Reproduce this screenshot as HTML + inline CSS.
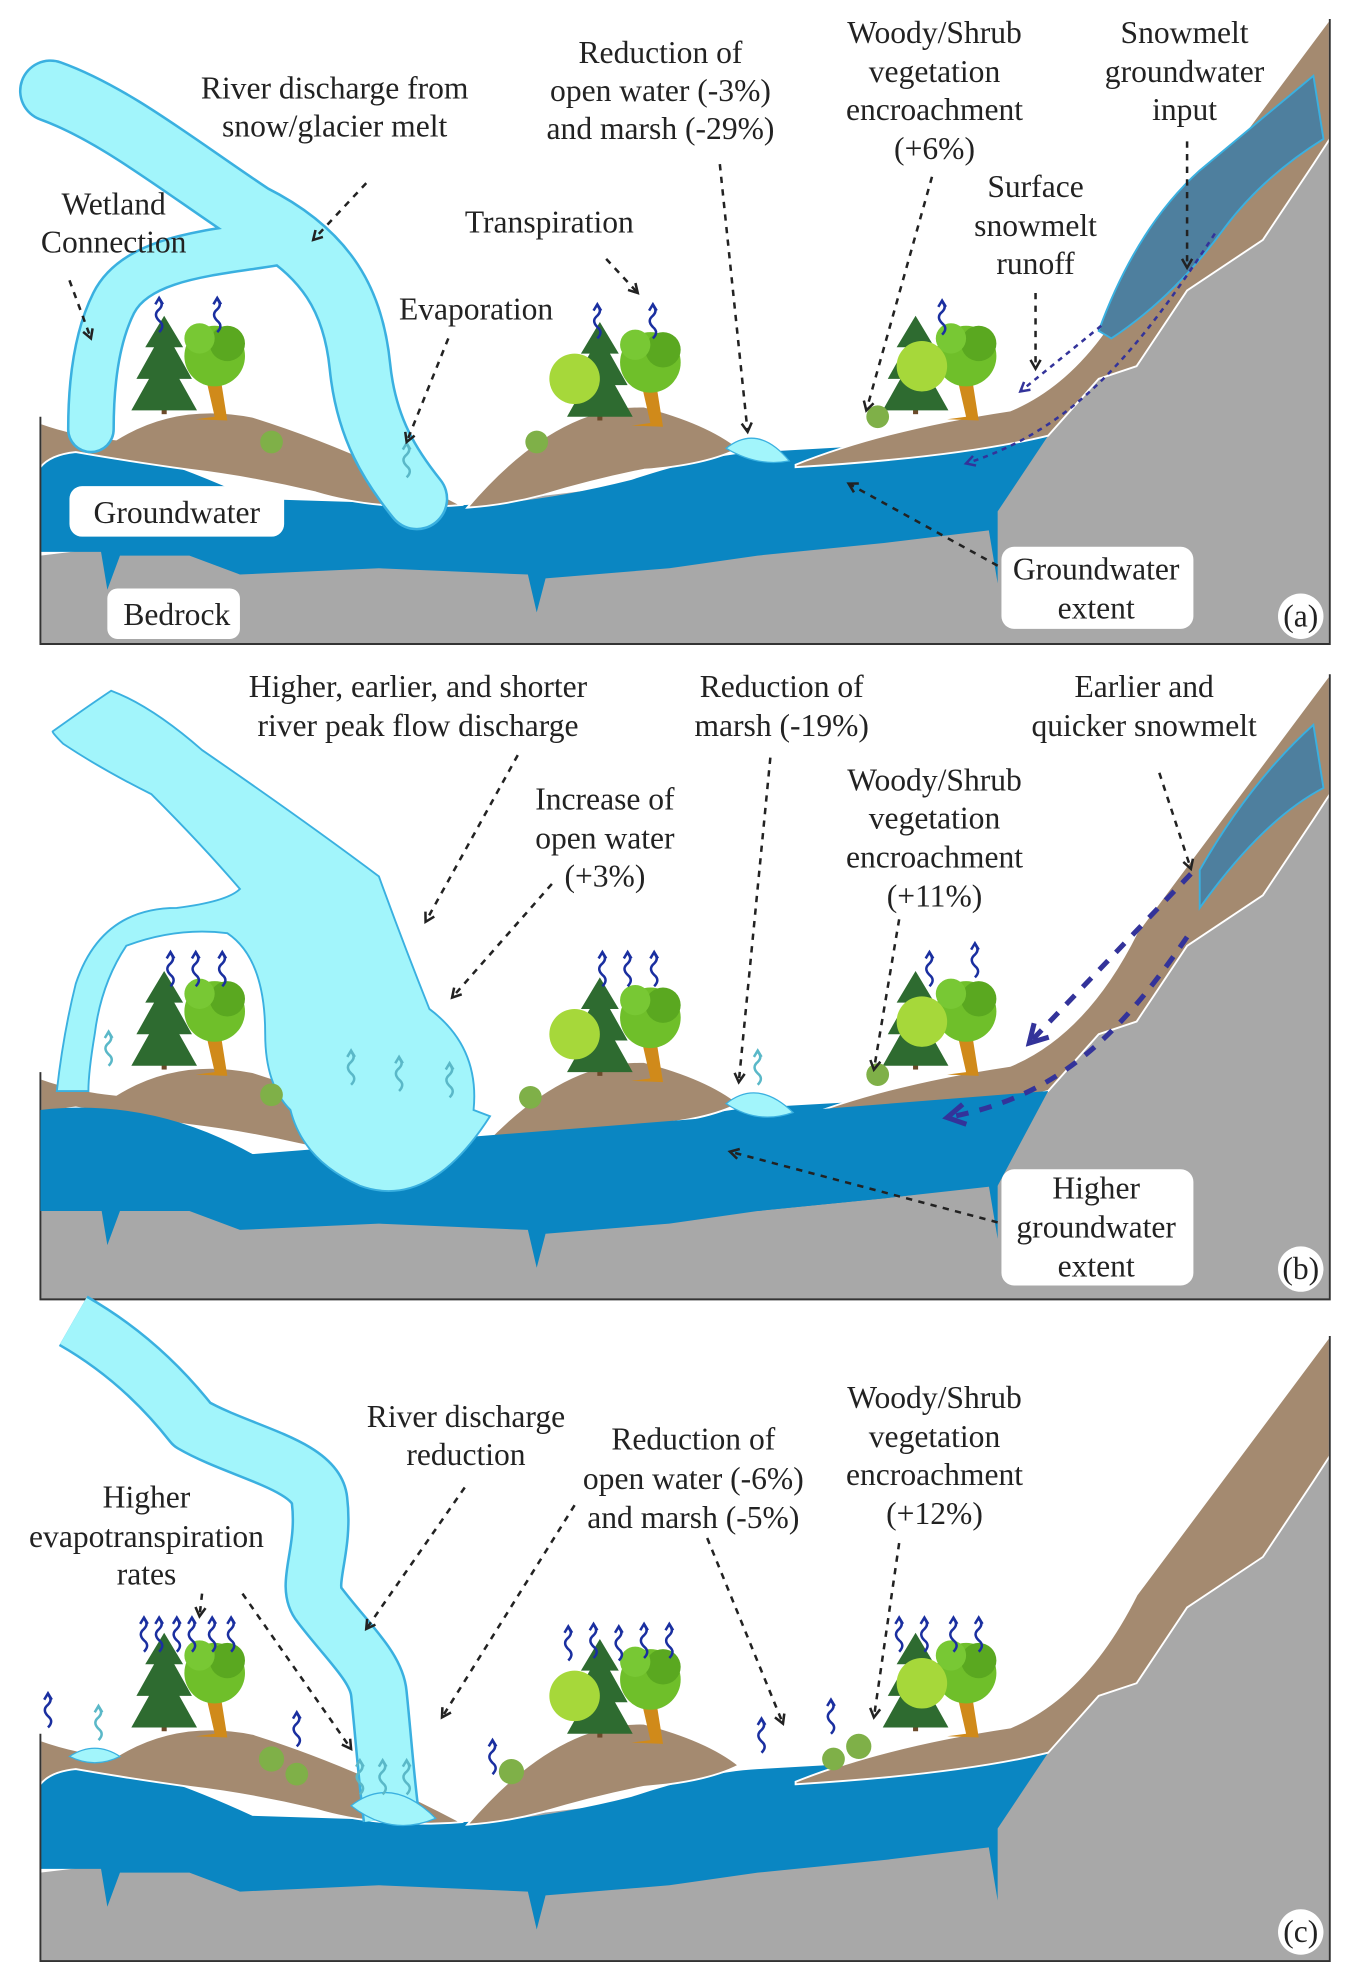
<!DOCTYPE html>
<html><head><meta charset="utf-8"><style>
html,body{margin:0;padding:0;background:#fff;}
svg{display:block;}
text{font-family:"Liberation Serif",serif;font-size:25px;fill:#222;text-anchor:middle;}
</style></head><body>
<svg width="1350" height="1980" viewBox="0 0 1069 1568" preserveAspectRatio="none" xmlns="http://www.w3.org/2000/svg">
<defs>
<marker id="ah" viewBox="0 0 10 10" refX="8" refY="5" markerWidth="5" markerHeight="5" orient="auto"><path d="M1,1 L8,5 L1,9" fill="none" stroke="#222" stroke-width="2"/></marker>
<marker id="ahb" viewBox="0 0 10 10" refX="8" refY="5" markerWidth="5" markerHeight="5" orient="auto"><path d="M1,1 L8,5 L1,9" fill="none" stroke="#33339a" stroke-width="2"/></marker>
<symbol id="sq" overflow="visible"><path d="M0,0 q5,-5 0,-9 q-5,-5 0,-9 q4,-4 0,-8" fill="none" stroke="#1a2fa0" stroke-width="2"/><path d="M-3,-22 L0,-27 L3,-22" fill="none" stroke="#1a2fa0" stroke-width="2"/></symbol>
<symbol id="sqc" overflow="visible"><path d="M0,0 q5,-5 0,-9 q-5,-5 0,-9 q4,-4 0,-8" fill="none" stroke="#5ab8c8" stroke-width="2"/><path d="M-3,-22 L0,-27 L3,-22" fill="none" stroke="#5ab8c8" stroke-width="2"/></symbol>
<symbol id="trees" overflow="visible">
 <rect x="-22" y="-10" width="4" height="38" fill="#6b4a2a"/>
 <path d="M-20,-50 L-5,-25 L-12,-25 L2,0 L-8,0 L6,25 L-46,25 L-32,0 L-42,0 L-28,-25 L-35,-25 Z" fill="#2e6b30"/>
 <path d="M12,-5 L20,30 L5,32 L30,33 L24,-5 Z" fill="#d08a1a"/>
 <circle cx="20" cy="-18" r="24" fill="#6fbf2a"/><circle cx="30" cy="-28" r="14" fill="#5aa820"/><circle cx="8" cy="-32" r="12" fill="#78c834"/>
</symbol>
<symbol id="ground" overflow="visible">
 <path d="M32,440 L32,510 L1053,510 L1053,110 L1040,130 L1000,190 L940,230 L900,290 L870,300 L830,345 Z" fill="#a8a8a8"/>
 <path d="M32,355 Q80,345 110,360 Q150,372 200,395 L360,400 Q420,400 500,380 Q560,360 600,358 L830,345 L790,405 L790,462 L783,420 L700,430 L600,440 L530,450 L432,458 L425,485 L418,455 L300,450 L190,455 L150,440 L95,440 L85,467 L80,437 L32,437 Z" fill="#0a86c2"/>
 <path d="M32,335 Q60,345 92,348 Q140,318 200,330 Q280,355 365,400 Q300,405 250,390 Q200,378 150,372 Q100,365 60,358 Q40,360 32,370 Z" fill="#a48a70" stroke="#fff" stroke-width="1.5"/>
 <path d="M370,402 Q440,320 510,322 Q560,335 585,355 Q560,368 510,372 Q470,380 430,392 Q400,400 370,402 Z" fill="#a48a70" stroke="#fff" stroke-width="1.5"/>
 <path d="M630,368 Q700,340 800,325 Q860,300 900,220 Q960,140 1053,15 L1053,110 L1040,130 L1000,190 L940,230 L900,290 L870,300 L830,345 Q760,362 630,370 Z" fill="#a48a70" stroke="#fff" stroke-width="1.5"/>
 <path d="M32,330 L32,510 L1053,510 L1053,15" fill="none" stroke="#333" stroke-width="1.5"/>
</symbol>
</defs>

<!-- PANEL A -->
<use href="#ground"/>
<path d="M870,262 Q900,180 950,135 Q1010,85 1040,60 L1048,110 Q1000,140 970,180 Q930,235 880,268 Z" fill="#4e7f9e" stroke="#3ab0e0" stroke-width="1.5"/>
<g fill="none" stroke-linecap="round" stroke-linejoin="round">
 <path d="M40,72 C90,90 140,130 200,170 C260,200 280,240 285,290 C290,340 310,370 330,395" stroke="#3ab0e0" stroke-width="50"/>
 <path d="M230,190 C180,200 110,200 90,240 C75,270 72,310 72,340" stroke="#3ab0e0" stroke-width="38"/>
 <path d="M40,72 C90,90 140,130 200,170 C260,200 280,240 285,290 C290,340 310,370 330,395" stroke="#a2f5fb" stroke-width="46"/>
 <path d="M230,190 C180,200 110,200 90,240 C75,270 72,310 72,340" stroke="#a2f5fb" stroke-width="34"/>
</g>
<path d="M575,355 Q600,335 625,365 Q600,370 575,355 Z" fill="#a2f5fb" stroke="#3ab0e0"/>
<use href="#trees" x="150" y="300"/><use href="#trees" x="495" y="305"/><use href="#trees" x="745" y="300"/>
<circle cx="455" cy="300" r="20" fill="#a6d83a"/><circle cx="730" cy="290" r="20" fill="#a6d83a"/>
<circle cx="215" cy="350" r="9" fill="#7fb048"/><circle cx="425" cy="350" r="9" fill="#7fb048"/><circle cx="695" cy="330" r="9" fill="#7fb048"/>
<use href="#sq" x="126" y="263"/><use href="#sq" x="172" y="263"/><use href="#sq" x="473" y="268"/><use href="#sq" x="517" y="268"/><use href="#sq" x="746" y="265"/><use href="#sqc" x="322" y="378"/>
<rect x="55" y="385" width="170" height="40" rx="10" fill="#fff"/><text x="140" y="414">Groundwater</text>
<rect x="85" y="466" width="105" height="40" rx="8" fill="#fff"/><text x="140" y="495">Bedrock</text>
<rect x="793" y="433" width="152" height="65" rx="10" fill="#fff"/><text x="868" y="459">Groundwater</text><text x="868" y="490">extent</text>
<circle cx="1030" cy="488" r="18" fill="#fff"/><text x="1030" y="496">(a)</text>
<text x="265" y="78">River discharge from</text><text x="265" y="108">snow/glacier melt</text>
<text x="90" y="170">Wetland</text><text x="90" y="200">Connection</text>
<text x="523" y="50">Reduction of</text><text x="523" y="80">open water (-3%)</text><text x="523" y="110">and marsh (-29%)</text>
<text x="740" y="34">Woody/Shrub</text><text x="740" y="65">vegetation</text><text x="740" y="95">encroachment</text><text x="740" y="126">(+6%)</text>
<text x="938" y="34">Snowmelt</text><text x="938" y="65">groundwater</text><text x="938" y="95">input</text>
<text x="435" y="184">Transpiration</text><text x="377" y="253">Evaporation</text>
<text x="820" y="156">Surface</text><text x="820" y="187">snowmelt</text><text x="820" y="217">runoff</text>
<g fill="none" stroke="#222" stroke-width="2" stroke-dasharray="5,5" marker-end="url(#ah)">
 <path d="M290,145 L248,190"/><path d="M55,222 L72,268"/><path d="M480,205 L505,232"/><path d="M355,268 L322,350"/><path d="M570,130 L592,342"/><path d="M738,140 L686,325"/><path d="M820,232 L820,292"/><path d="M940,112 L940,212"/><path d="M790,448 L672,383"/>
</g>
<g fill="none" stroke="#33339a" stroke-width="2" stroke-dasharray="4,4" marker-end="url(#ahb)"><path d="M872,258 L808,310"/><path d="M962,185 C900,280 850,340 765,367"/></g>

<!-- PANEL B -->
<g transform="translate(0,519)">
<use href="#ground"/>
<path d="M32,360 Q120,350 200,395 L830,345 L790,420 L700,430 L600,440 L32,440 Z" fill="#0a86c2"/>
<path d="M950,170 Q990,100 1040,55 L1048,105 Q1000,130 950,200 Z" fill="#4e7f9e" stroke="#3ab0e0" stroke-width="1.5"/>
<path d="M42,60 Q70,40 88,28 Q120,40 160,75 Q240,130 300,175 Q320,230 340,280 Q380,310 375,360 L388,365 Q340,440 285,420 Q240,400 230,360 Q210,340 210,300 Q210,240 180,220 Q140,215 100,230 Q80,260 75,300 Q70,330 70,345 L45,345 Q50,300 60,260 Q80,200 140,200 Q180,195 190,185 Q160,150 120,110 Q80,90 50,70 Q40,60 42,60 Z" fill="#a2f5fb" stroke="#3ab0e0" stroke-width="1.5"/>
<path d="M575,355 Q600,335 628,362 Q600,372 575,355 Z" fill="#a2f5fb" stroke="#3ab0e0"/>
<use href="#trees" x="150" y="300"/><use href="#trees" x="495" y="305"/><use href="#trees" x="745" y="300"/>
<circle cx="455" cy="300" r="20" fill="#a6d83a"/><circle cx="730" cy="290" r="20" fill="#a6d83a"/>
<circle cx="215" cy="348" r="9" fill="#7fb048"/><circle cx="420" cy="350" r="9" fill="#7fb048"/><circle cx="695" cy="332" r="9" fill="#7fb048"/>
<use href="#sq" x="135" y="262"/><use href="#sq" x="155" y="262"/><use href="#sq" x="176" y="262"/><use href="#sq" x="477" y="262"/><use href="#sq" x="497" y="262"/><use href="#sq" x="518" y="262"/><use href="#sq" x="736" y="262"/><use href="#sq" x="772" y="255"/>
<use href="#sqc" x="86" y="325"/><use href="#sqc" x="278" y="340"/><use href="#sqc" x="316" y="345"/><use href="#sqc" x="356" y="350"/><use href="#sqc" x="600" y="340"/>
<rect x="793" y="407" width="152" height="92" rx="10" fill="#fff"/><text x="868" y="430">Higher</text><text x="868" y="461">groundwater</text><text x="868" y="492">extent</text>
<circle cx="1030" cy="486" r="18" fill="#fff"/><text x="1030" y="494">(b)</text>
</g>
<text x="331" y="552">Higher, earlier, and shorter</text><text x="331" y="583">river peak flow discharge</text>
<text x="619" y="552">Reduction of</text><text x="619" y="583">marsh (-19%)</text>
<text x="906" y="552">Earlier and</text><text x="906" y="583">quicker snowmelt</text>
<text x="479" y="641">Increase of</text><text x="479" y="672">open water</text><text x="479" y="702">(+3%)</text>
<text x="740" y="626">Woody/Shrub</text><text x="740" y="656">vegetation</text><text x="740" y="687">encroachment</text><text x="740" y="718">(+11%)</text>
<g fill="none" stroke="#222" stroke-width="2" stroke-dasharray="5,5" marker-end="url(#ah)">
 <path d="M410,598 L337,730"/><path d="M437,700 L358,790"/><path d="M610,600 L585,857"/><path d="M712,728 L692,847"/><path d="M918,612 L943,688"/><path d="M790,968 L578,912"/>
</g>
<g fill="none" stroke="#33339a" stroke-width="4" stroke-dasharray="10,9" marker-end="url(#ahb)"><path d="M943,692 L815,826"/><path d="M940,742 C880,830 830,870 750,885"/></g>

<!-- PANEL C -->
<g transform="translate(0,1043)">
<use href="#ground"/>
<path d="M55,348 Q75,335 95,348 Q75,358 55,348 Z" fill="#a2f5fb" stroke="#3ab0e0"/>
<use href="#trees" x="150" y="300"/><use href="#trees" x="495" y="305"/><use href="#trees" x="745" y="300"/>
<circle cx="455" cy="300" r="20" fill="#a6d83a"/><circle cx="730" cy="290" r="20" fill="#a6d83a"/>
<circle cx="215" cy="350" r="10" fill="#7fb048"/><circle cx="235" cy="362" r="9" fill="#7fb048"/><circle cx="405" cy="360" r="10" fill="#7fb048"/><circle cx="680" cy="340" r="10" fill="#7fb048"/><circle cx="660" cy="350" r="9" fill="#7fb048"/>
<use href="#sq" x="114" y="265"/><use href="#sq" x="126" y="265"/><use href="#sq" x="140" y="265"/><use href="#sq" x="152" y="265"/><use href="#sq" x="168" y="265"/><use href="#sq" x="183" y="265"/>
<use href="#sq" x="450" y="272"/><use href="#sq" x="470" y="270"/><use href="#sq" x="490" y="272"/><use href="#sq" x="510" y="270"/><use href="#sq" x="530" y="270"/>
<use href="#sq" x="712" y="265"/><use href="#sq" x="732" y="265"/><use href="#sq" x="755" y="265"/><use href="#sq" x="775" y="265"/>
<use href="#sq" x="38" y="325"/><use href="#sq" x="235" y="340"/><use href="#sq" x="390" y="362"/><use href="#sq" x="603" y="345"/><use href="#sq" x="658" y="330"/>
<use href="#sqc" x="78" y="335"/>
<circle cx="1030" cy="487" r="18" fill="#fff"/><text x="1030" y="495">(c)</text>
</g>
<g fill="none" stroke-linecap="butt" stroke-linejoin="round">
 <path d="M58,1046 C100,1070 130,1100 152,1128 C190,1150 250,1160 253,1188 C258,1230 240,1255 253,1271 C275,1300 298,1320 300,1341 C304,1380 306,1410 310,1440" stroke="#3ab0e0" stroke-width="46"/>
 <path d="M58,1046 C100,1070 130,1100 152,1128 C190,1150 250,1160 253,1188 C258,1230 240,1255 253,1271 C275,1300 298,1320 300,1341 C304,1380 306,1410 310,1440" stroke="#a2f5fb" stroke-width="42"/>
</g>
<path d="M278,1430 Q310,1405 345,1440 Q310,1455 278,1430 Z" fill="#a2f5fb" stroke="#3ab0e0"/>
<use href="#sqc" x="285" y="1421"/><use href="#sqc" x="303" y="1421"/><use href="#sqc" x="322" y="1421"/>
<text x="369" y="1130">River discharge</text><text x="369" y="1160">reduction</text>
<text x="549" y="1148">Reduction of</text><text x="549" y="1179">open water (-6%)</text><text x="549" y="1210">and marsh (-5%)</text>
<text x="740" y="1115">Woody/Shrub</text><text x="740" y="1146">vegetation</text><text x="740" y="1176">encroachment</text><text x="740" y="1207">(+12%)</text>
<text x="116" y="1194">Higher</text><text x="116" y="1225">evapotranspiration</text><text x="116" y="1255">rates</text>
<g fill="none" stroke="#222" stroke-width="2" stroke-dasharray="5,5" marker-end="url(#ah)">
 <path d="M160,1262 L158,1280"/><path d="M192,1262 L278,1385"/><path d="M368,1178 L290,1290"/><path d="M455,1192 L350,1360"/><path d="M560,1218 L620,1365"/><path d="M712,1222 L692,1360"/>
</g>
</svg>
</body></html>
